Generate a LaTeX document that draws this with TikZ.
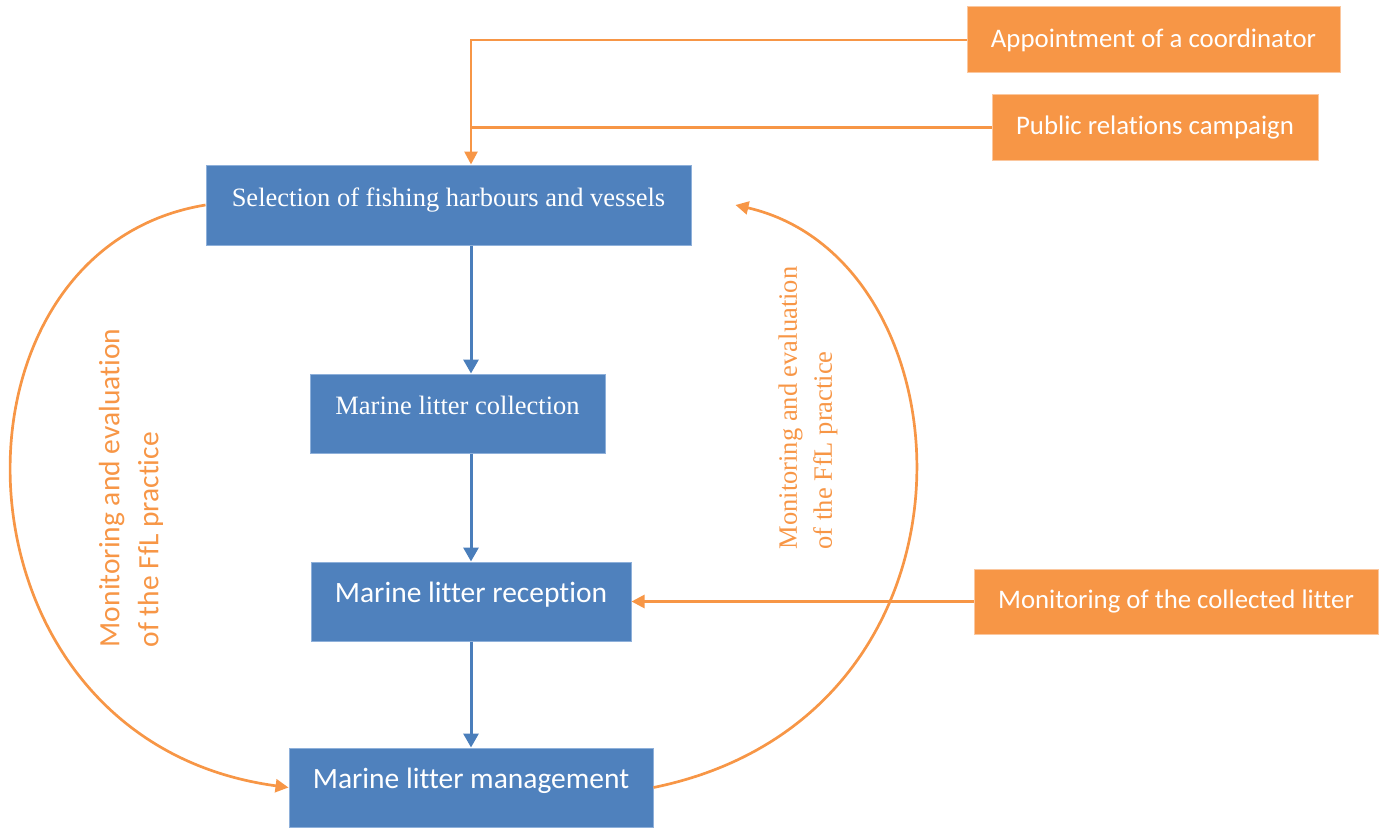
\documentclass[tikz,border=0pt]{standalone}
\usepackage{fontspec}
\setmainfont{Liberation Serif}
\setsansfont{Carlito}[Ligatures=NoCommon]
\usepackage{tikz}
\usetikzlibrary{arrows.meta}
\definecolor{boxblue}{HTML}{4F81BD}
\definecolor{edgeblue}{HTML}{8EB0DA}
\definecolor{lineblue}{HTML}{4A7EBB}
\definecolor{boxorange}{HTML}{F79646}
\definecolor{edgeorange}{HTML}{FBC79E}
\begin{document}
\begin{tikzpicture}[x=1pt,y=-1pt,
  stepblue/.style={draw=edgeblue,line width=1pt,fill=boxblue,text=white,inner sep=0pt,text height=17pt,text depth=15pt},
  stepred/.style={draw=edgeorange,line width=1pt,fill=boxorange,text=white,inner sep=0pt,font=\sffamily\fontsize{26.8}{32}\selectfont},
  serif/.style={font=\rmfamily\fontsize{26.5}{32}\selectfont},
  sans/.style={font=\sffamily\fontsize{29.5}{34}\selectfont},
  flow/.style={lineblue,line width=3pt,-{Triangle[width=15pt,length=14pt]}},
  feed/.style={boxorange,line width=2.7pt,-{Triangle[width=13pt,length=13pt]}}]
\useasboundingbox (0,0) rectangle (1383,832);
\node [stepblue,serif,minimum width=485pt,minimum height=80pt] (sel) at(448.5,205){Selection of fishing harbours and vessels};
\node [stepblue,serif,minimum width=295pt,minimum height=79pt] (coll) at(457.5,413.5){Marine litter collection};
\node [stepblue,sans,minimum width=320pt,minimum height=79pt] (rec) at(471,601.5){Marine litter reception};
\node [stepblue,sans,minimum width=364pt,minimum height=79pt] (mgmt) at(471,787.5){Marine litter management};
\node [stepred,minimum width=373pt,minimum height=66pt] (app) at(1153.5,40){Appointment of a coordinator};
\node [stepred,minimum width=326pt,minimum height=65pt] (pr) at(1155,127.5){Public relations campaign};
\node [stepred,minimum width=404pt,minimum height=65pt] (mon) at(1176,601.5){Monitoring of the collected litter};
\node [rotate=90,align=left,text=boxorange,font=\sffamily\fontsize{29.5}{39}\selectfont] (evl) at(131,488){Monitoring and evaluation\\of the FfL practice};
\node [rotate=90,align=left,text=boxorange,font=\rmfamily\fontsize{26.5}{35}\selectfont] (evr) at(808,408){Monitoring and evaluation\\of the FfL practice};
\coordinate (back) at ([xshift=44pt]sel.east);

\draw [flow] (rec.north |- sel.south) -- (rec.north |- coll.north);
\draw [flow] (rec.north |- coll.south) -- (rec.north);
\draw [flow] (rec.south) -- (mgmt.north);

\draw [feed] (app.west) -| (rec.north |- sel.north);
\draw [boxorange,line width=2.7pt] (pr.west) -- (pr.west -| rec.north);
\draw [feed] (mon.west) -- (rec.east);
\draw [feed] (sel.west) .. controls +(-276,45) and +(-349,-47) .. (mgmt.west);
\draw [feed] (mgmt.east) .. controls +(347,-71) and +(240,55) .. (back);
\end{tikzpicture}
\end{document}
